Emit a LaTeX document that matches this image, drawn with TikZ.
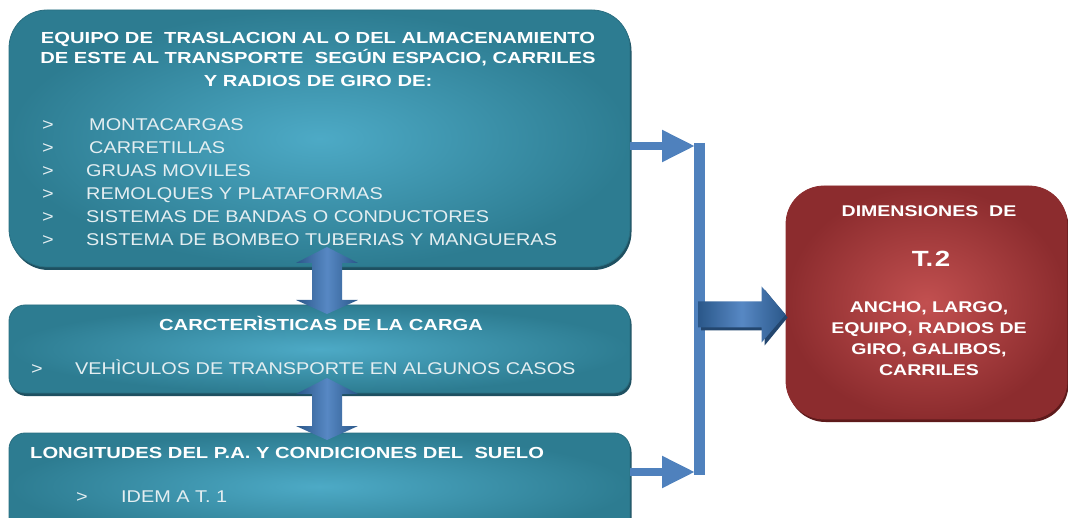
\documentclass[tikz,border=0pt]{standalone}
\usepackage{fontspec}
\setmainfont{Liberation Sans}[FakeStretch=1.17, BoldFeatures={FakeStretch=1.26}]
\usetikzlibrary{arrows.meta,calc,shadows}
\definecolor{tealout}{HTML}{2D7C91}
\definecolor{tealin}{HTML}{4DAAC6}
\definecolor{tealedge}{HTML}{2A6E80}
\definecolor{tealshadow}{HTML}{1E5061}
\definecolor{redout}{HTML}{8C2C2E}
\definecolor{redin}{HTML}{C25050}
\definecolor{redshadow}{HTML}{5E1A1B}
\definecolor{conn}{HTML}{4F81BD}
\definecolor{arrdark}{HTML}{2A5789}
\definecolor{arrlight}{HTML}{5788C4}
\definecolor{arrshadow}{HTML}{23466E}
\definecolor{itemcol}{HTML}{E4EEF1}
\begin{document}
\begin{tikzpicture}[x=1pt,y=-1pt,
  tealbox/.style={rectangle, draw=tealedge, line width=0.8pt, shading=radial,
    inner color=tealin, outer color=tealout, inner sep=0pt,
    drop shadow={shadow xshift=1.5pt, shadow yshift=-3pt, fill=tealshadow, opacity=1}},
  redbox/.style={rectangle, draw=redout, line width=0.8pt, shading=radial,
    inner color=redin, outer color=redout, inner sep=0pt, rounded corners=38pt,
    drop shadow={shadow xshift=1.5pt, shadow yshift=-3pt, fill=redshadow, opacity=1}},
  ttl/.style={inner sep=0pt, text=white, font=\fontsize{16}{16}\selectfont\bfseries},
  itm/.style={inner sep=0pt, text=itemcol, font=\fontsize{17}{17}\selectfont},
  rtx/.style={inner sep=0pt, text=white, font=\fontsize{15.5}{15.5}\selectfont\bfseries},
  bigarrow/.style={left color=arrdark, right color=arrdark, middle color=arrlight},
  connline/.style={draw=conn, line width=8pt}
]
\useasboundingbox (0,0) rectangle (1068,518);
\clip (0,0) rectangle (1068,518);

% boxes
\node[tealbox, rounded corners=38pt, minimum width=621pt, minimum height=257pt] (b1) at (319.5,138.5) {};
\node[tealbox, rounded corners=16pt, minimum width=621pt, minimum height=88pt] (b2) at (319.5,349) {};
\node[tealbox, rounded corners=16pt, minimum width=621pt, minimum height=107pt] (b3) at (319.5,486.5) {};
\node[redbox, minimum width=281pt, minimum height=233pt] (r) at (926.5,302.5) {};

% bracket connector
\coordinate (bt) at (699,143);
\coordinate (bb) at (699,475);
\coordinate (h1) at (695,146);
\coordinate (h3) at (695,472);
\draw[draw=conn, line width=11pt] (bt) -- (bb);
\draw[connline, -{Triangle[length=33pt,width=30pt]}] (b1.east |- h1) -- (h1);
\draw[connline, -{Triangle[length=33pt,width=30pt]}] (b3.east |- h3) -- (h3);

% big arrow to red box
\coordinate (ba) at (698,314.5);
\coordinate (bz) at (r.west |- 0,314.5);
\fill[arrshadow] ($(ba)+(3,-10)$) -- ($(bz)+(-21,-10)$) -- ($(bz)+(-21,-25)$) -- ($(bz)+(2,3)$) -- ($(bz)+(-21,31)$) -- ($(bz)+(-21,16)$) -- ($(ba)+(3,16)$) -- cycle;
\shade[bigarrow] ($(ba)+(0,-13)$) -- ($(bz)+(-24,-13)$) -- ($(bz)+(-24,-28)$) -- (bz) -- ($(bz)+(-24,28)$) -- ($(bz)+(-24,13)$) -- ($(ba)+(0,13)$) -- cycle;

% vertical double arrows
\coordinate (d1t) at (327,247);
\coordinate (d1b) at (327,314);
\coordinate (d2t) at (327,378);
\coordinate (d2b) at (327,440);
\foreach \t/\b in {d1t/d1b, d2t/d2b}{
  \shade[bigarrow] (\t) -- ($(\t)+(31,16)$) -- ($(\t)+(15,16)$) -- ($(\b)+(15,-14)$) -- ($(\b)+(31,-14)$)
    -- (\b) -- ($(\b)+(-31,-14)$) -- ($(\b)+(-15,-14)$) -- ($(\t)+(-15,16)$) -- ($(\t)+(-31,16)$) -- cycle;
}

% box 1 text
\node[ttl, anchor=base] (t1a) at (318,43.3) {EQUIPO DE \ TRASLACION AL O DEL ALMACENAMIENTO};
\node[ttl, anchor=base] (t1b) at (318,63.3) {DE ESTE AL TRANSPORTE \ SEGÚN ESPACIO, CARRILES};
\node[ttl, anchor=base] (t1c) at (318,86.7) {Y RADIOS DE GIRO DE:};
\foreach \i/\txt/\dx in {0/MONTACARGAS/3, 1/CARRETILLAS/3, 2/GRUAS MOVILES/0, 3/REMOLQUES Y PLATAFORMAS/0, 4/SISTEMAS DE BANDAS O CONDUCTORES/0, 5/SISTEMA DE BOMBEO TUBERIAS Y MANGUERAS/0}{
  \node[itm, anchor=base west] (g\i) at (42,131+22.9*\i) {>};
  \node[itm, anchor=base west] (i\i) at (86+\dx,131+22.9*\i) {\txt};
}

% box 2 text
\node[ttl, anchor=base] (t2) at (321,331) {CARCTERÌSTICAS DE LA CARGA};
\node[itm, anchor=base west] (g6) at (31,375) {>};
\node[itm, anchor=base west] (i6) at (75,375) {VEHÌCULOS DE TRANSPORTE EN ALGUNOS CASOS};

% box 3 text
\node[ttl, anchor=base west] (t3) at (30,458) {LONGITUDES DEL P.A. Y CONDICIONES DEL \ SUELO};
\node[itm, anchor=base west] (g7) at (76,502.5) {>};
\node[itm, anchor=base west] (i7) at (121,502.5) {IDEM A T. 1};

% red box text
\node[rtx, anchor=base] (r1) at (929,216.5) {DIMENSIONES \ DE};
\node[rtx, anchor=base, font=\fontsize{22}{22}\selectfont\bfseries] (r2) at (931,266.7) {T.\kern1.5pt2};
\node[rtx, anchor=base] (r3) at (929,312.7) {ANCHO, LARGO,};
\node[rtx, anchor=base] (r4) at (929,333.5) {EQUIPO, RADIOS DE};
\node[rtx, anchor=base] (r5) at (929,355) {GIRO, GALIBOS,};
\node[rtx, anchor=base] (r6) at (929,376) {CARRILES};
\end{tikzpicture}
\end{document}
